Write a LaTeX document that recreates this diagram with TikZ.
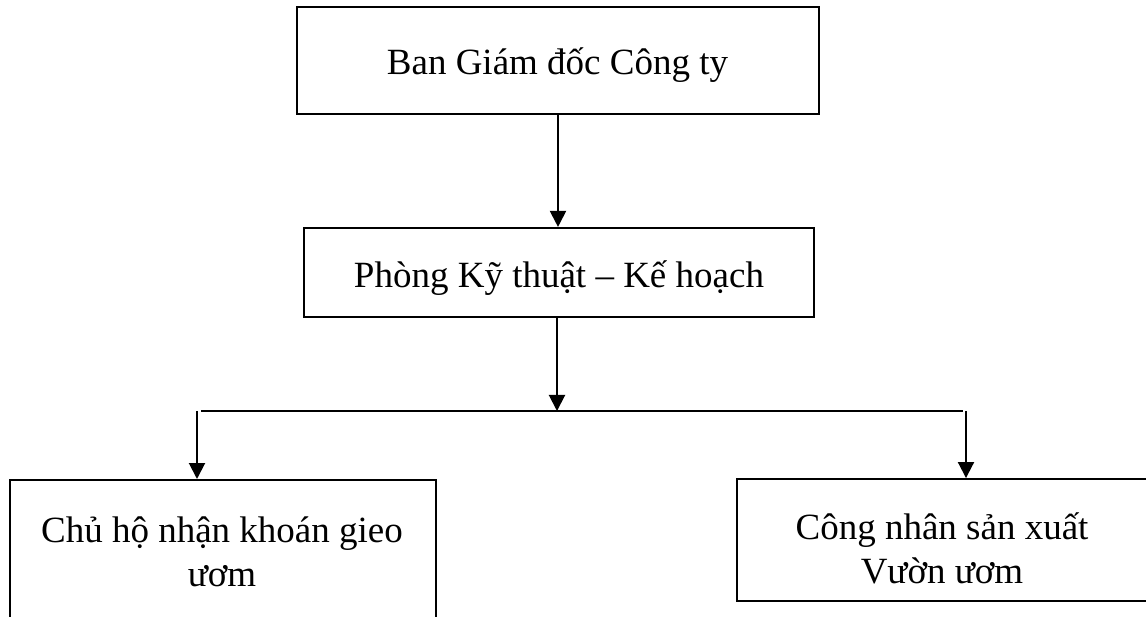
\documentclass[tikz,border=0pt]{standalone}
\usepackage{fontspec}
\setmainfont{Liberation Serif}
\usetikzlibrary{arrows.meta}
\begin{document}
\begin{tikzpicture}[x=1pt,y=-1pt,
  box/.style={draw, line width=2pt, inner sep=0pt, rectangle},
  lbl/.style={font=\fontsize{37}{44}\selectfont, align=center, inner sep=0pt, anchor=base},
  arr/.style={line width=2pt, -{Triangle[length=16pt,width=16pt]}},
  ln/.style={line width=2pt}]
\clip (0,0) rectangle (1146,617);
\fill[white] (0,0) rectangle (1146,617);
% boxes
\node[box, minimum width=522pt, minimum height=107pt] (top) at (558,60.6) {};
\node[box, minimum width=510pt, minimum height=89.5pt] (mid) at (559,272.7) {};
\node[box, minimum width=426pt, minimum height=170pt] (left) at (223,565) {};
\node[box, minimum width=413pt, minimum height=121.7pt] (right) at (943.5,539.9) {};
% texts (base = baseline of last line)
\node[lbl] (toptext) at (557.5,75) {Ban Giám đốc Công ty};
\node[lbl] (midtext) at (559,288) {Phòng Kỹ thuật – Kế hoạch};
\node[lbl] (lefttext) at (222,586) {Chủ hộ nhận khoán gieo\\ươm};
\node[lbl] (righttext) at (942,583) {Công nhân sản xuất\\Vườn ươm};
% connectors
\draw[arr] (top.south) -- (top.south |- mid.north);
\coordinate (j) at (557,411);
\draw[arr] (mid.south -| j) -- (j);
\coordinate (hl) at (201,411);
\coordinate (hr) at (963,411);
\draw[ln] (hl) -- (hr);
\coordinate (la) at (197,411);
\coordinate (ra) at (966,411);
\draw[arr] (la) -- (la |- left.north);
\draw[arr] (ra) -- (ra |- right.north);
\end{tikzpicture}
\end{document}
